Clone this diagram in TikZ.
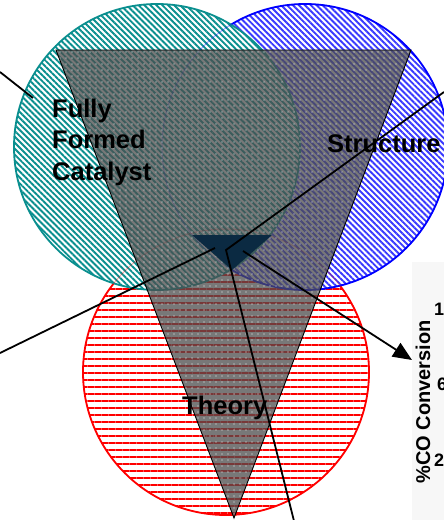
\documentclass[tikz,border=0pt]{standalone}
\usepackage{fontspec}
\setmainfont{Liberation Sans}
\usetikzlibrary{patterns.meta,arrows.meta}
\definecolor{tealc}{HTML}{0A8F8F}
\definecolor{bluec}{HTML}{0000FF}
\definecolor{bluel}{HTML}{3A3AFF}
\definecolor{redc}{HTML}{FF0000}
\definecolor{navy}{HTML}{0B2A42}
\definecolor{panel}{HTML}{F7F7F7}
\tikzset{
  conn/.style={draw=black, line width=1.8pt},
  bigfont/.style={font=\bfseries\fontsize{25.5}{31.5}\selectfont, inner sep=0pt},
  axisfont/.style={font=\bfseries\fontsize{18}{21}\selectfont, inner sep=0pt, anchor=base west},
}
\begin{document}
\begin{tikzpicture}[x=1pt,y=-1pt]
\clip (0,0) rectangle (444,520);
\fill[white] (0,0) rectangle (444,520);
\fill[panel] (412,262) rectangle (444,520);
% red circle (Theory)
\path[pattern={Lines[angle=0,distance=7pt,line width=2.4pt]}, pattern color=redc] (226,372) circle[radius=143];
\draw[redc, line width=1.8pt] (226,372) circle[radius=143];
% blue circle (Structure)
\fill[white] (305,147) circle[radius=143];
\path[pattern={Lines[angle=-45,distance=4.2pt,line width=1.9pt]}, pattern color=bluel] (305,147) circle[radius=143];
\draw[bluec, line width=1.8pt] (305,147) circle[radius=143];
% teal circle (Fully Formed Catalyst)
\fill[white] (157,147) circle[radius=143];
\path[pattern={Lines[angle=-45,distance=4.2pt,line width=1.9pt]}, pattern color=tealc] (157,147) circle[radius=143];
\draw[tealc, line width=1.8pt] (157,147) circle[radius=143];
\draw[bluec, line width=1pt, opacity=0.35] (305,147) circle[radius=143];
\draw[redc, line width=1pt, opacity=0.3] (226,372) circle[radius=143];
% big funnel triangle
\fill[black!70, opacity=0.75] (56,50) -- (411,50) -- (234,518) -- cycle;
\path[pattern={Dots[distance=6pt,radius=0.6pt]}, pattern color=white!90!gray] (56,50) -- (411,50) -- (234,518) -- cycle;
\draw[black, line width=0.9pt] (56,50) -- (411,50) -- (234,518) -- cycle;
% small dark triangle
\fill[navy] (192,235) -- (272,235) -- (232,270) -- cycle;
% labels
\node[bigfont, align=left, anchor=north west] (ffc) at (52,98.5) {Fully\\Formed\\Catalyst};
\node[bigfont, anchor=base west] (str) at (327,152) {Structure};
\node[bigfont, anchor=base west] (thy) at (182,414) {Theory};
\node[font=\bfseries\fontsize{20}{24}\selectfont, inner sep=0pt, rotate=90, anchor=base] (co) at (430,402) {\%CO Conversion};
\node[axisfont] (t100) at (434,315) {100};
\node[axisfont] (t60) at (437,390.5) {60};
\node[axisfont] (t20) at (434,466.5) {20};
% connectors
\coordinate (a1) at (0,72);
\coordinate (a2) at (33,98);
\coordinate (b1) at (0,353);
\coordinate (b2) at (215,248);
\coordinate (c1) at (444,92);
\coordinate (c2) at (226,250);
\coordinate (c3) at (294,521);
\coordinate (d1) at (243,251);
\coordinate (d2) at (412,360);
\draw[conn] (a1) -- (a2);
\draw[conn] (b1) -- (b2);
\draw[conn] (c1) -- (c2) -- (c3);
\draw[conn, -{Triangle[length=19pt,width=16pt]}] (d1) -- (d2);
\end{tikzpicture}
\end{document}
